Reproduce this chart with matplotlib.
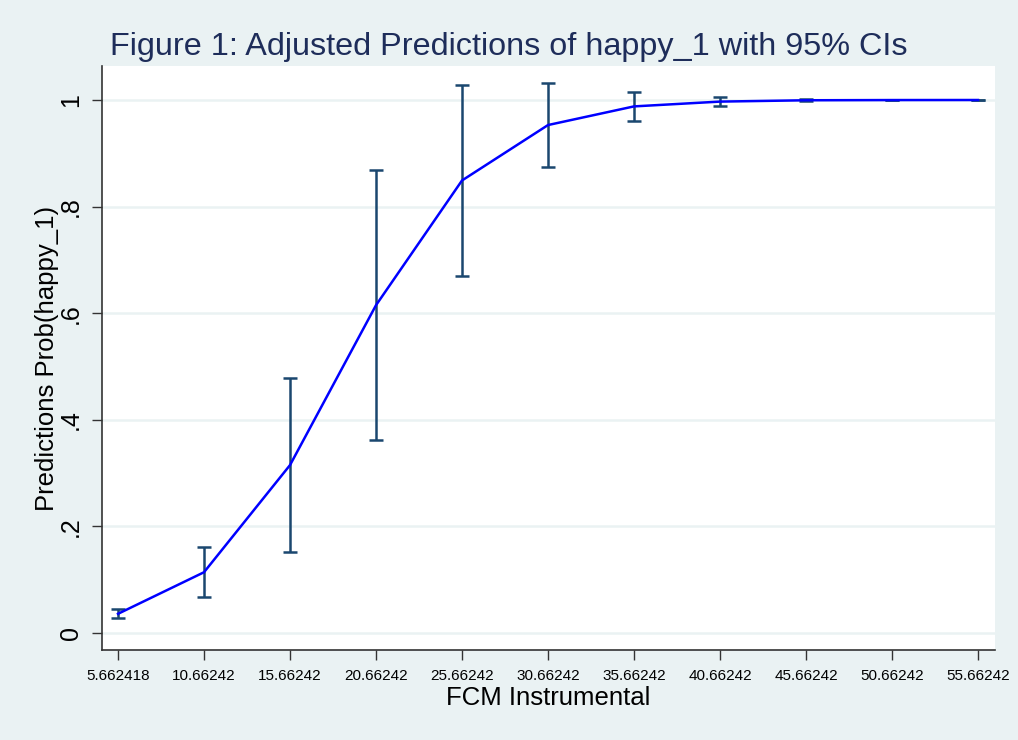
import matplotlib.pyplot as plt

plt.rcParams['font.family'] = ['Liberation Sans', 'DejaVu Sans']

fcm = [5.662418, 10.66242, 15.66242, 20.66242, 25.66242, 30.66242,
       35.66242, 40.66242, 45.66242, 50.66242, 55.66242]
x_labels = ['5.662418', '10.66242', '15.66242', '20.66242', '25.66242', '30.66242',
            '35.66242', '40.66242', '45.66242', '50.66242', '55.66242']
pred = [0.036, 0.114, 0.315, 0.615, 0.849, 0.953, 0.988, 0.997, 0.9995, 0.9999, 1.0]
ci_low = [0.028, 0.068, 0.152, 0.362, 0.670, 0.874, 0.961, 0.989, 0.998, 0.9997, 0.9999]
ci_high = [0.045, 0.161, 0.478, 0.869, 1.028, 1.032, 1.015, 1.006, 1.001, 1.0003, 1.0001]
y_ticks = [0, 0.2, 0.4, 0.6, 0.8, 1.0]
y_labels = ['0', '.2', '.4', '.6', '.8', '1']

bg = '#EAF2F3'
fig = plt.figure(figsize=(10.18, 7.40), dpi=100, facecolor=bg)
ax = fig.add_axes([102 / 1018, 1 - 650 / 740, (995 - 102) / 1018, (650 - 66) / 740])
ax.set_facecolor('white')

for y in y_ticks:
    ax.axhline(y, color=bg, lw=1.8, zorder=0)

err_lo = [p - l for p, l in zip(pred, ci_low)]
err_hi = [h - p for p, h in zip(pred, ci_high)]
ax.errorbar(fcm, pred, yerr=[err_lo, err_hi], fmt='none', ecolor='#1A476F',
            elinewidth=1.8, capsize=4.7, capthick=1.8, zorder=2)
ax.plot(fcm, pred, color='#0000FF', lw=1.8, zorder=3)

ax.set_xlim(fcm[0] - 16 / 86 * 5, fcm[0] + 877 / 86 * 5)
ax.set_ylim((633 - 650) / 533, (633 - 66) / 533)

ax.set_xticks(fcm)
ax.set_xticklabels(x_labels, fontsize=11)
ax.set_yticks(y_ticks)
ax.set_yticklabels(y_labels, fontsize=18, rotation=90, va='center')
ax.tick_params(axis='both', direction='out', length=7.5, width=1, color='#333333', pad=6)

for s in ['top', 'right']:
    ax.spines[s].set_visible(False)
for s in ['left', 'bottom']:
    ax.spines[s].set_color('#333333')
    ax.spines[s].set_linewidth(1.2)

ax.set_xlabel('FCM Instrumental', fontsize=18.5, labelpad=2)
ax.set_ylabel('Predictions Prob(happy_1)', fontsize=18.5, labelpad=0)

fig.text(0.5, 1 - 55 / 740, 'Figure 1: Adjusted Predictions of happy_1 with 95% CIs',
         ha='center', va='baseline', fontsize=23.3, color='#1E2D5A')

fig.savefig('out.png', dpi=100, facecolor=bg)
